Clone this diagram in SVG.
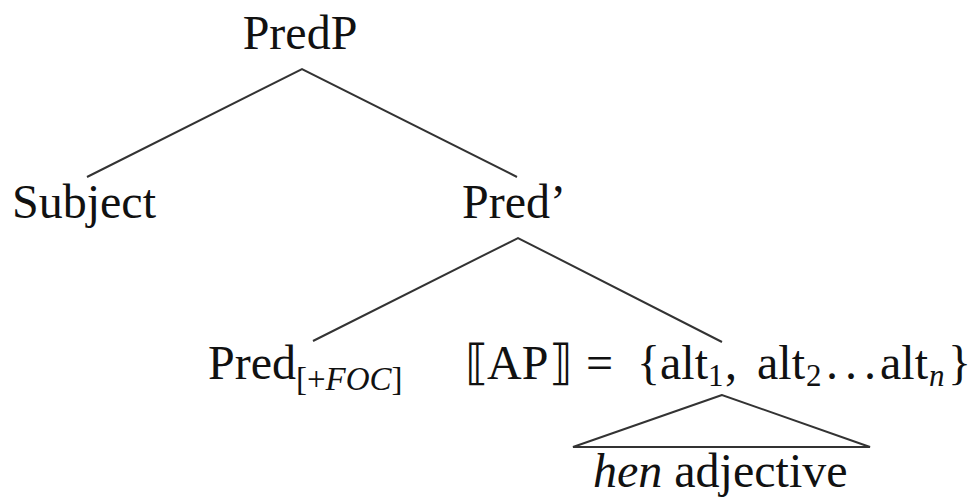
<svg xmlns="http://www.w3.org/2000/svg" width="978" height="498" viewBox="0 0 978 498">
<style>
text{fill:#111;font-size:48px}
.sub{font-size:33px}
.ssub{font-size:31px}
.it{font-style:italic}
.mid{text-anchor:middle}
.edge{stroke:#333;stroke-width:2;fill:none;stroke-linejoin:miter}
</style>
<rect width="978" height="498" fill="#fff"/>
<g id="connectors">
<polyline class="edge" points="87,177 302,69 517,177"/>
<polyline class="edge" points="313,341 518,238 722,342"/>
<polygon class="edge" points="722,395 573,447 870,447"/>
</g>
<g font-family="'Liberation Serif', 'Times New Roman', 'DejaVu Serif', serif">
<g id="predp"><text class="mid" x="300" y="49">PredP</text></g>
<g id="subject"><text x="12" y="218">Subject</text></g>
<g id="predbar"><text class="mid" x="514" y="218">Pred’</text></g>
<g id="pred"><text x="208" y="379">Pred<tspan class="sub" dy="11">[+<tspan class="it">FOC</tspan>]</tspan></text></g>
<g id="ap">
<text y="379"><tspan x="465">⟦</tspan><tspan x="487">AP</tspan><tspan x="549">⟧</tspan><tspan x="586">=</tspan><tspan x="637">{</tspan><tspan x="660">alt</tspan><tspan class="ssub" x="708" dy="7">1</tspan><tspan x="725" dy="-7">,</tspan><tspan x="757">alt</tspan><tspan class="ssub" x="806" dy="7">2</tspan><tspan x="826" dy="-7" letter-spacing="7">...</tspan><tspan x="880">alt</tspan><tspan class="ssub it" x="929" dy="7">n</tspan><tspan x="948" dy="-7">}</tspan></text>
</g>
<g id="hen"><text x="593" y="487"><tspan class="it">hen</tspan> adjective</text></g>
</g>
</svg>
